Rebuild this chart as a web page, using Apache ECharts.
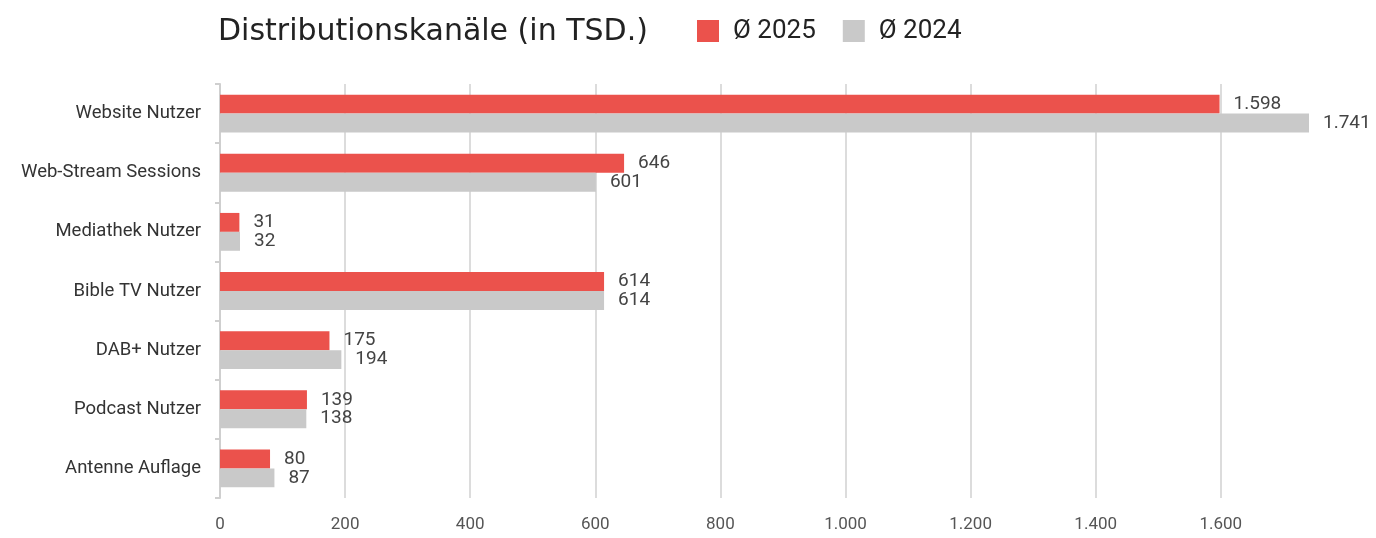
<!DOCTYPE html>
<html lang="de">
<head>
    <meta charset="UTF-8">
    <title>Distributionskanäle</title>
    <script src="https://cdn.jsdelivr.net/npm/echarts@6/dist/echarts.min.js"></script>
    <style>
        html, body {margin: 0; padding: 0; background: #fff;}
        #chart {width: 1376px; height: 538px;}
    </style>
</head>
<body>
<div id="chart"></div>
<script>
    // Daten (in Tausend)
    var categories = ['Website Nutzer', 'Web-Stream Sessions', 'Mediathek Nutzer', 'Bible TV Nutzer', 'DAB+ Nutzer', 'Podcast Nutzer', 'Antenne Auflage'];
    var values2025 = [1598, 646, 31, 614, 175, 139, 80];
    var values2024 = [1741, 601, 32, 614, 194, 138, 87];
    var seriesNames = ['Ø 2025', 'Ø 2024'];

    // deutsche Tausendertrennung
    function fmt(v) {
        return String(v).replace(/\B(?=(\d{3})+(?!\d))/g, '.');
    }

    var chart = echarts.init(document.getElementById('chart'));
    var labelStyle = {show: true, position: 'right', distance: 14, color: '#444', fontSize: 19, fontFamily: 'Roboto',
        formatter: function (p) { return fmt(p.value); }};

    var option = {
        animation: false,
        title: {
            text: 'Distributionskanäle (in TSD.)',
            left: 213, top: 12,
            textStyle: {fontFamily: 'DejaVu Sans', fontWeight: 'normal', fontSize: 30, color: '#222'}
        },
        legend: {
            left: 692, top: 13,
            itemWidth: 22, itemHeight: 22, itemGap: 27,
            icon: 'rect',
            textStyle: {fontFamily: 'Roboto', fontSize: 26, color: '#222', padding: [0, 0, 0, 9]},
            data: seriesNames
        },
        grid: {left: 220, right: 67, top: 84, bottom: 40, containLabel: false},
        xAxis: {
            type: 'value', min: 0, max: 1741, interval: 200,
            axisLine: {show: false}, axisTick: {show: false},
            axisLabel: {color: '#555', fontSize: 17, fontFamily: 'Roboto', margin: 18, showMaxLabel: false,
                formatter: function (v) { return v % 200 === 0 ? fmt(v) : ''; }},
            splitLine: {show: true, showMinLine: false, showMaxLine: false, lineStyle: {color: '#dcdcdc', width: 2}}
        },
        yAxis: {
            type: 'category', inverse: true, data: categories,
            axisLine: {show: true, lineStyle: {color: '#cfcfcf', width: 2}},
            axisTick: {show: true, length: 5, lineStyle: {color: '#cfcfcf', width: 2}},
            axisLabel: {color: '#333', fontSize: 18.5, fontFamily: 'Roboto', margin: 19}
        },
        series: [
            {
                name: seriesNames[0], type: 'bar', data: values2025,
                barGap: 0, barCategoryGap: '36%',
                itemStyle: {color: '#eb524c'},
                label: labelStyle
            },
            {
                name: seriesNames[1], type: 'bar', data: values2024,
                itemStyle: {color: '#c9c9c9'},
                label: labelStyle
            }
        ]
    };
    chart.setOption(option);
</script>
</body>
</html>
